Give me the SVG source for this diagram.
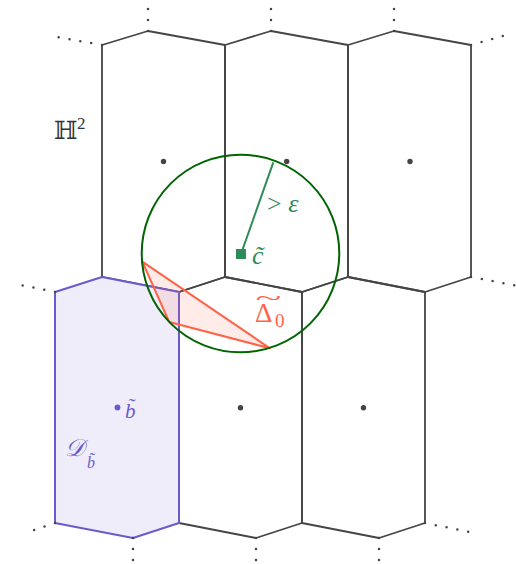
<svg xmlns="http://www.w3.org/2000/svg" width="516" height="564" viewBox="0 0 516 564">
<style>
.cell{fill:none;stroke:#454545;stroke-width:1.8;stroke-linejoin:round}
.ctr{fill:#444}
.dots{fill:none;stroke:#444;stroke-width:2.5;stroke-linecap:round;stroke-dasharray:0 11}
.serif{font-family:"Liberation Serif","DejaVu Serif",serif}
.it{font-style:italic}
.purple{fill:#6a5acd}
.green{fill:#2e8b57}
.red{fill:#ff6347}
</style>
<rect width="516" height="564" fill="#fff"/>
<g id="cell-top-1"><polygon class="cell" points="102,45 148,31 225,45 225,277 179,292 102,277"/><circle class="ctr" cx="163.5" cy="161.5" r="2.7"/></g>
<g id="cell-top-2"><polygon class="cell" points="225,45 271,31 348,45 348,277 302,292 225,277"/><circle class="ctr" cx="286.7" cy="161.5" r="2.7"/></g>
<g id="cell-top-3"><polygon class="cell" points="348,45 394,31 471,45 471,277 425,292 348,277"/><circle class="ctr" cx="410" cy="161.5" r="2.7"/></g>
<g id="cell-bottom-2"><polygon class="cell" points="179,292 225,277 302,292 302,523 256,538 179,523"/><circle class="ctr" cx="240.5" cy="407.7" r="2.7"/></g>
<g id="cell-bottom-3"><polygon class="cell" points="302,292 348,277 425,292 425,523 379,538 302,523"/><circle class="ctr" cx="363.5" cy="407.7" r="2.7"/></g>
<g id="domain-D-b">
<polygon points="55,292 102,277 179,292 179,523 133,538 55,523" fill="#efedfa" stroke="#6a5acd" stroke-width="2" stroke-linejoin="round"/>
<circle class="purple" cx="117.5" cy="407.5" r="2.9"/>
<text class="serif it purple" x="125" y="417.5" font-size="21">b̃</text>
<text class="serif it purple" x="65" y="456" font-size="24">𝒟<tspan x="87" y="467.5" font-size="16">b̃</tspan></text>
</g>
<g id="triangle-Delta0">
<polygon points="142.3,261.7 169.2,322 270,348.3" fill="#ff6347" fill-opacity="0.12" stroke="#ff6347" stroke-width="2" stroke-linejoin="round"/>
<text class="serif red" x="255" y="322" font-size="27">Δ<tspan x="275" y="327" font-size="19">0</tspan></text>
<text class="serif red" x="0" y="0" font-size="20" transform="translate(255.5,304.5) scale(2.4,1)">~</text>
</g>
<g id="ball">
<circle cx="240.5" cy="253.5" r="98.8" fill="none" stroke="#006400" stroke-width="2"/>
</g>
<g id="center-c">
<rect x="236" y="249" width="10" height="10" fill="#2e8b57"/>
<text class="serif it green" x="252" y="263.5" font-size="26">c̃</text>
</g>
<g id="space-label">
<text x="54" y="139" font-size="25" fill="#333" font-family="DejaVu Serif, DejaVu Sans, serif">ℍ<tspan class="serif" x="77" y="129" font-size="17">2</tspan></text>
</g>
<g id="connectors">
<line x1="241" y1="254" x2="273.3" y2="162.3" stroke="#2e8b57" stroke-width="2"/>
<text class="serif green" x="267" y="212" font-size="26">&gt; <tspan class="it">ε</tspan></text>
<path class="dots" d="M148,31V8 M271,31V8 M394,31V8 M102,45L58.3,37.3 M471,45L503,36 M55,292L12.3,283.3 M471,277L514.7,285.3 M55,523L24,533.3 M133,538V561 M256,538V561 M379,538V561 M425,523L468.3,531.7"/>
</g>
</svg>
